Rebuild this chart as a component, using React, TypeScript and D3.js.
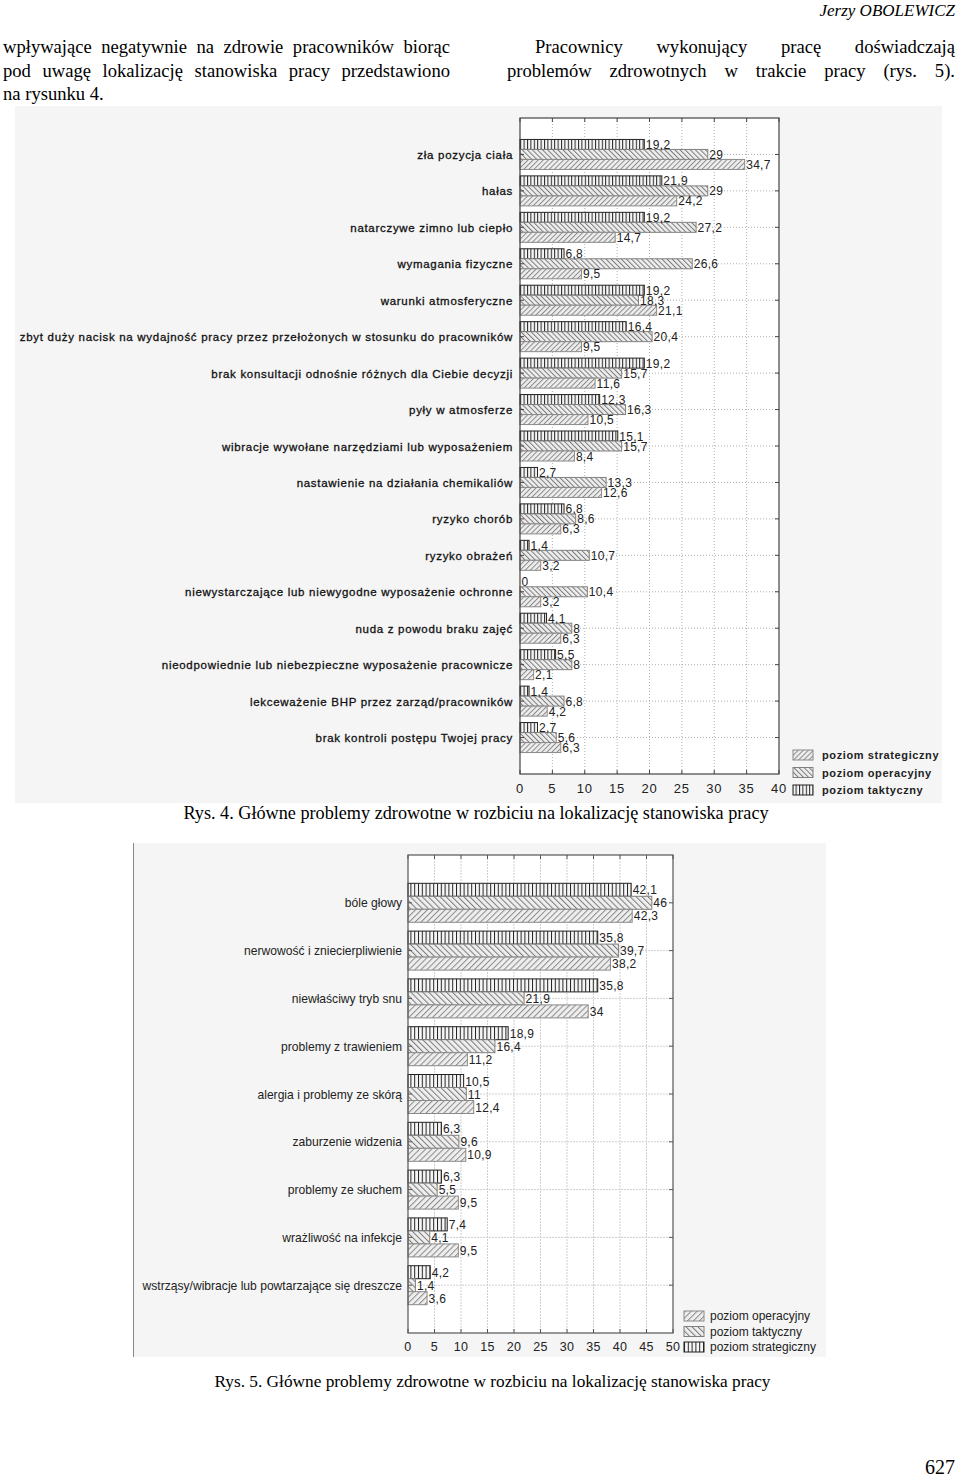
import React from 'react';
import * as d3 from 'd3';

// ---------- Data: Rys. 4 ----------
const chart1Categories = [
  'zła pozycja ciała',
  'hałas',
  'natarczywe zimno lub ciepło',
  'wymagania fizyczne',
  'warunki atmosferyczne',
  'zbyt duży nacisk na wydajność pracy przez przełożonych w stosunku do pracowników',
  'brak konsultacji odnośnie różnych dla Ciebie decyzji',
  'pyły w atmosferze',
  'wibracje wywołane narzędziami lub wyposażeniem',
  'nastawienie na działania chemikaliów',
  'ryzyko chorób',
  'ryzyko obrażeń',
  'niewystarczające lub niewygodne wyposażenie ochronne',
  'nuda z powodu braku zajęć',
  'nieodpowiednie lub niebezpieczne wyposażenie pracownicze',
  'lekceważenie BHP przez zarząd/pracowników',
  'brak kontroli postępu Twojej pracy',
];
const chart1Taktyczny = [19.2, 21.9, 19.2, 6.8, 19.2, 16.4, 19.2, 12.3, 15.1, 2.7, 6.8, 1.4, 0, 4.1, 5.5, 1.4, 2.7];
const chart1Operacyjny = [29, 29, 27.2, 26.6, 18.3, 20.4, 15.7, 16.3, 15.7, 13.3, 8.6, 10.7, 10.4, 8, 8, 6.8, 5.6];
const chart1Strategiczny = [34.7, 24.2, 14.7, 9.5, 21.1, 9.5, 11.6, 10.5, 8.4, 12.6, 6.3, 3.2, 3.2, 6.3, 2.1, 4.2, 6.3];
const chart1Ticks = [0, 5, 10, 15, 20, 25, 30, 35, 40];
const chart1Legend = ['poziom strategiczny', 'poziom operacyjny', 'poziom taktyczny'];

// ---------- Data: Rys. 5 ----------
const chart2Categories = [
  'bóle głowy',
  'nerwowość i zniecierpliwienie',
  'niewłaściwy tryb snu',
  'problemy z trawieniem',
  'alergia i problemy ze skórą',
  'zaburzenie widzenia',
  'problemy ze słuchem',
  'wrażliwość na infekcje',
  'wstrząsy/wibracje lub powtarzające się dreszcze',
];
const chart2Strategiczny = [42.1, 35.8, 35.8, 18.9, 10.5, 6.3, 6.3, 7.4, 4.2];
const chart2Taktyczny = [46, 39.7, 21.9, 16.4, 11, 9.6, 5.5, 4.1, 1.4];
const chart2Operacyjny = [42.3, 38.2, 34, 11.2, 12.4, 10.9, 9.5, 9.5, 3.6];
const chart2Ticks = [0, 5, 10, 15, 20, 25, 30, 35, 40, 45, 50];
const chart2Legend = ['poziom operacyjny', 'poziom taktyczny', 'poziom strategiczny'];

// ---------- Page text ----------
const headerText = 'Jerzy OBOLEWICZ';
const leftLines = [
  'wpływające negatywnie na zdrowie pracowników biorąc',
  'pod uwagę lokalizację stanowiska pracy przedstawiono',
  'na rysunku 4.',
];
const rightLines = [
  'Pracownicy wykonujący pracę doświadczają',
  'problemów zdrowotnych w trakcie pracy (rys. 5).',
];
const caption1 = 'Rys. 4. Główne problemy zdrowotne w rozbiciu na lokalizację stanowiska pracy';
const caption2 = 'Rys. 5. Główne problemy zdrowotne w rozbiciu na lokalizację stanowiska pracy';
const pageNumber = '627';

const SERIF = '"Liberation Serif", "Times New Roman", serif';
const SANS = '"Liberation Sans", Arial, sans-serif';

let ctx: CanvasRenderingContext2D | null = null;
function measure(text: string, font: string) {
  if (!ctx) ctx = document.createElement('canvas').getContext('2d');
  ctx!.font = font;
  return ctx!.measureText(text).width;
}

function Justified({ text, x0, x1, y, size, justify }: any) {
  const font = `${size}px ${SERIF}`;
  const words = text.split(' ');
  const widths = words.map((w: string) => measure(w, font));
  const spaceW = measure(' ', font);
  const gap = justify && words.length > 1 ? (x1 - x0 - d3.sum(widths)) / (words.length - 1) : spaceW;
  let x = x0;
  return (
    <g fontFamily={SERIF} fontSize={size} fill="#000">
      {words.map((w: string, i: number) => {
        const el = (
          <text key={i} x={x} y={y}>
            {w}
          </text>
        );
        x += widths[i] + gap;
        return el;
      })}
    </g>
  );
}

function fmt(v: number) {
  return String(v).replace('.', ',');
}

function Patterns({ id, vSpacing, dSpacing }: any) {
  return (
    <>
      <pattern id={`${id}-vert`} patternUnits="userSpaceOnUse" width={vSpacing} height={20}>
        <rect width={vSpacing} height={20} fill="#f6f6f6" />
        <line x1={0.5} y1={0} x2={0.5} y2={20} stroke="#222" strokeWidth={1} />
      </pattern>
      <pattern id={`${id}-back`} patternUnits="userSpaceOnUse" width={dSpacing} height={20} patternTransform="rotate(-45)">
        <rect width={dSpacing} height={20} fill="#eeeeee" />
        <line x1={0.5} y1={0} x2={0.5} y2={20} stroke="#7a7a7a" strokeWidth={1} />
      </pattern>
      <pattern id={`${id}-fwd`} patternUnits="userSpaceOnUse" width={dSpacing} height={20} patternTransform="rotate(45)">
        <rect width={dSpacing} height={20} fill="#eeeeee" />
        <line x1={0.5} y1={0} x2={0.5} y2={20} stroke="#8a8a8a" strokeWidth={1} />
      </pattern>
    </>
  );
}

function BarChart(props: any) {
  const {
    id, categories, series, ticks, domain, panel, plot, barH, labelX, tickLabelY,
    catFont, catSpacing, catColor, catStroke, valFont, tickFont, tickSpacing, legend, legendBox, legendFont, legendBold,
    legendSpacingText, gridDash, gridColor, frameColor, panelLeftBorder,
  } = props;
  const x = d3.scaleLinear().domain(domain).range([plot.x0, plot.x1]);
  const y = d3.scalePoint<string>().domain(categories).range([plot.y0, plot.y1]).padding(1);
  const patFor: Record<string, string> = { vert: `url(#${id}-vert)`, back: `url(#${id}-back)`, fwd: `url(#${id}-fwd)` };
  const strokeFor: Record<string, string> = { vert: '#222', back: '#808080', fwd: '#8a8a8a' };
  const tickLen = 4;
  return (
    <g>
      <rect x={panel.x} y={panel.y} width={panel.w} height={panel.h} fill="#f5f5f5" />
      {panelLeftBorder ? (
        <line x1={panel.x + 0.5} x2={panel.x + 0.5} y1={panel.y} y2={panel.y + panel.h} stroke="#8a8a8a" />
      ) : null}
      <rect x={plot.x0} y={plot.y0} width={plot.x1 - plot.x0} height={plot.y1 - plot.y0} fill="#fff" />
      {/* grid */}
      {ticks.slice(1, -1).map((t: number) => (
        <line key={'gx' + t} x1={x(t)} x2={x(t)} y1={plot.y0} y2={plot.y1} stroke={gridColor} strokeDasharray={gridDash} />
      ))}
      {categories.map((c: string) => (
        <line key={'gy' + c} x1={plot.x0} x2={plot.x1} y1={y(c)} y2={y(c)} stroke={gridColor} strokeDasharray={gridDash} />
      ))}
      {/* bars */}
      {categories.map((c: string, i: number) => {
        const cy = y(c)!;
        const top = cy - (barH * series.length) / 2;
        return (
          <g key={'b' + i}>
            {series.map((s: any, j: number) => (
              <rect key={j} x={x(0)} y={top + j * barH} width={Math.max(0, x(s.values[i]) - x(0))} height={barH}
                fill={patFor[s.pattern]} stroke={strokeFor[s.pattern]} strokeWidth={1} />
            ))}
          </g>
        );
      })}
      {/* frame */}
      <rect x={plot.x0} y={plot.y0} width={plot.x1 - plot.x0} height={plot.y1 - plot.y0} fill="none" stroke={frameColor} strokeWidth={1.2} />
      {/* ticks */}
      {ticks.map((t: number) => (
        <g key={'t' + t}>
          <line x1={x(t)} x2={x(t)} y1={plot.y0} y2={plot.y0 + tickLen} stroke={frameColor} />
          <line x1={x(t)} x2={x(t)} y1={plot.y1} y2={plot.y1 - tickLen} stroke={frameColor} />
          <text x={x(t)} y={tickLabelY} textAnchor="middle" dominantBaseline="central" fontFamily={SANS} fontSize={tickFont} fill="#222" letterSpacing={tickSpacing}>
            {t}
          </text>
        </g>
      ))}
      {categories.map((c: string) => (
        <g key={'ct' + c}>
          <line x1={plot.x0} x2={plot.x0 + tickLen} y1={y(c)} y2={y(c)} stroke={frameColor} />
          <line x1={plot.x1} x2={plot.x1 - tickLen} y1={y(c)} y2={y(c)} stroke={frameColor} />
          <text x={labelX} y={y(c)! + 0.5} textAnchor="end" dominantBaseline="central" fontFamily={SANS} fontSize={catFont} letterSpacing={catSpacing} fill={catColor}
            stroke={catStroke ? catColor : 'none'} strokeWidth={catStroke || 0}>
            {c}
          </text>
        </g>
      ))}
      {/* value labels */}
      {categories.map((c: string, i: number) => {
        const cy = y(c)!;
        const top = cy - (barH * series.length) / 2;
        return series.map((s: any, j: number) => (
          <text key={`v${i}-${j}`} x={x(s.values[i]) + 1.5} y={top + j * barH + barH / 2 + 0.5} dominantBaseline="central"
            fontFamily={SANS} fontSize={valFont} letterSpacing={0.3} fill="#222">
            {fmt(s.values[i])}
          </text>
        ));
      })}
      {/* legend */}
      {legend.map((l: any, k: number) => (
        <g key={'l' + k}>
          <rect x={legendBox.x} y={legendBox.y + k * legendBox.dy} width={legendBox.w} height={legendBox.h}
            fill={patFor[l.pattern]} stroke={strokeFor[l.pattern]} />
          <text x={legendBox.tx} y={legendBox.y + k * legendBox.dy + legendBox.h / 2} dominantBaseline="central"
            fontFamily={SANS} fontSize={legendFont} fontWeight={legendBold ? 'bold' : 'normal'} letterSpacing={legendSpacingText} fill="#222">
            {l.label}
          </text>
        </g>
      ))}
    </g>
  );
}

export default function App() {
  const chart1Series = [
    { name: 'poziom taktyczny', values: chart1Taktyczny, pattern: 'vert' },
    { name: 'poziom operacyjny', values: chart1Operacyjny, pattern: 'back' },
    { name: 'poziom strategiczny', values: chart1Strategiczny, pattern: 'fwd' },
  ];
  const chart1LegendItems = [
    { label: chart1Legend[0], pattern: 'fwd' },
    { label: chart1Legend[1], pattern: 'back' },
    { label: chart1Legend[2], pattern: 'vert' },
  ];
  const chart2Series = [
    { name: 'poziom strategiczny', values: chart2Strategiczny, pattern: 'vert' },
    { name: 'poziom taktyczny', values: chart2Taktyczny, pattern: 'back' },
    { name: 'poziom operacyjny', values: chart2Operacyjny, pattern: 'fwd' },
  ];
  const chart2LegendItems = [
    { label: chart2Legend[0], pattern: 'fwd' },
    { label: chart2Legend[1], pattern: 'back' },
    { label: chart2Legend[2], pattern: 'vert' },
  ];

  return (
    <svg width={960} height={1477} style={{ position: 'absolute', left: 0, top: 0, background: '#fff' }}>
      <defs>
        <Patterns id="c1" vSpacing={3.4} dSpacing={3.6} />
        <Patterns id="c2" vSpacing={3.8} dSpacing={4.2} />
      </defs>
      <rect width={960} height={1477} fill="#fff" />
      <text x={955} y={16} textAnchor="end" fontFamily={SERIF} fontStyle="italic" fontSize={17}>{headerText}</text>
      <Justified text={leftLines[0]} x0={3} x1={450} y={53} size={18.6} justify />
      <Justified text={leftLines[1]} x0={3} x1={450} y={77} size={18.6} justify />
      <Justified text={leftLines[2]} x0={3} x1={450} y={100} size={18.6} justify={false} />
      <Justified text={rightLines[0]} x0={535} x1={955} y={53} size={18.6} justify />
      <Justified text={rightLines[1]} x0={507} x1={955} y={77} size={18.6} justify />

      <BarChart
        id="c1"
        categories={chart1Categories}
        series={chart1Series}
        ticks={chart1Ticks}
        domain={[0, 40]}
        panel={{ x: 15, y: 106, w: 927, h: 697 }}
        plot={{ x0: 520, x1: 779, y0: 118, y1: 774 }}
        barH={10}
        labelX={513}
        tickLabelY={788}
        catFont={11.5}
        catSpacing={0.7}
        catColor="#111"
        catStroke={0.3}
        valFont={12}
        tickFont={13}
        tickSpacing={0.8}
        legend={chart1LegendItems}
        legendBox={{ x: 793, y: 750, w: 20, h: 10, dy: 17.5, tx: 822 }}
        legendFont={11}
        legendBold
        legendSpacingText={0.6}
        gridDash="1,2"
        gridColor="#b0b0b0"
        frameColor="#444"
        panelLeftBorder={false}
      />
      <text x={476} y={819} textAnchor="middle" fontFamily={SERIF} fontSize={18.2}>{caption1}</text>

      <BarChart
        id="c2"
        categories={chart2Categories}
        series={chart2Series}
        ticks={chart2Ticks}
        domain={[0, 50]}
        panel={{ x: 133, y: 843, w: 693, h: 514 }}
        plot={{ x0: 408, x1: 673, y0: 855, y1: 1333 }}
        barH={13}
        labelX={402}
        tickLabelY={1347}
        catFont={12.1}
        catSpacing={0}
        catColor="#222"
        catStroke={0}
        valFont={12}
        tickFont={12.5}
        tickSpacing={0.3}
        legend={chart2LegendItems}
        legendBox={{ x: 684, y: 1311, w: 20, h: 10, dy: 15.5, tx: 710 }}
        legendFont={12}
        legendBold={false}
        legendSpacingText={0}
        gridDash="2,1"
        gridColor="#cfcfcf"
        frameColor="#555"
        panelLeftBorder
      />
      <text x={492.5} y={1387} textAnchor="middle" fontFamily={SERIF} fontSize={17.3}>{caption2}</text>

      <text x={955} y={1474} textAnchor="end" fontFamily={SERIF} fontSize={20}>{pageNumber}</text>
    </svg>
  );
}
